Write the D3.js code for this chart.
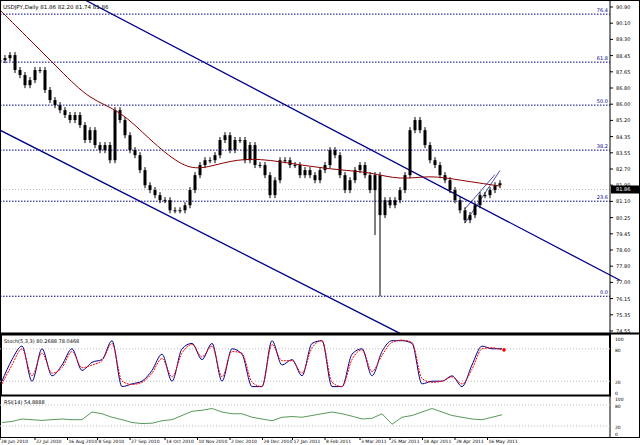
<!DOCTYPE html>
<html><head><meta charset="utf-8">
<script src="https://cdn.jsdelivr.net/npm/d3@7"></script>
<style>body{margin:0;background:#fff}text{font-family:"DejaVu Sans",sans-serif}</style>
</head><body><svg id="c" width="640" height="445"></svg>
<script>
const closes = [88.27,88.37,88.52,87.78,87.53,87.03,87.28,87.78,87.78,86.79,86.29,86.04,85.79,85.55,85.30,85.55,85.05,84.31,84.80,84.06,83.81,84.06,83.31,85.79,85.30,84.55,83.81,83.56,82.82,82.07,81.83,81.58,81.33,81.33,80.83,80.83,80.83,81.08,81.83,82.57,83.07,83.31,83.31,83.56,84.31,84.55,83.81,84.31,84.31,83.31,84.06,83.07,83.07,82.57,81.58,82.32,83.31,83.31,83.07,83.07,82.57,82.82,82.57,82.32,82.82,83.07,83.81,83.56,82.57,81.83,82.32,82.82,83.07,82.57,81.83,82.57,80.59,81.33,81.08,81.33,81.83,82.57,84.80,85.30,84.80,84.06,83.31,83.07,82.57,82.32,81.83,81.33,80.83,80.34,80.59,81.08,81.58,81.58,81.83,82.07,82.17];
const spikeLows = {76: 76.57, 75: 79.6};
const maIdx = [0,6,12,18,24,30,36,40,46,52,60,68,74,80,86,92,100];
const maVals = [90.75,89.27,87.78,86.29,85.80,84.31,83.07,82.82,83.31,83.41,83.07,82.82,82.72,82.32,82.57,82.32,82.03];
const fibLevels = [76.4,61.8,50.0,38.2,23.6,0.0];
const fibPrices = [90.55,88.17,86.04,83.81,81.28,76.57];
const priceTicks = ["90.90","90.10","89.30","88.45","87.65","86.80","86.00","85.20","84.35","83.55","82.70","81.90","81.10","80.25","79.45","78.60","77.80","77.00","76.15","75.35","74.55"];
const lastPrice = "81.86";
const stochK = [20,60,85,20,80,30,50,80,40,55,60,95,10,15,20,40,70,20,80,90,60,90,20,80,70,10,10,95,50,60,30,90,95,10,10,70,80,30,75,95,95,90,15,20,20,30,10,50,85,80,80];
const stochD = [15,50,80,30,72,35,45,75,45,50,58,90,20,14,18,35,62,28,72,88,65,85,28,75,72,18,10,88,58,58,35,82,95,18,10,60,78,38,68,92,96,92,25,18,20,28,15,42,80,82,78];
const rsiVals = [30,33,40,38,36,38,40,38,38,60,55,45,38,30,27,28,35,38,50,62,65,70,60,55,55,45,40,35,45,47,45,50,55,60,55,48,40,42,55,25,45,50,60,70,60,50,45,40,38,45,52];
const dateLabels = ["28 Jun 2010","22 Jul 2010","16 Aug 2010","8 Sep 2010","27 Sep 2010","14 Oct 2010","10 Nov 2010","2 Dec 2010","24 Dec 2010","17 Jan 2011","8 Feb 2011","3 Mar 2011","25 Mar 2011","18 Apr 2011","28 Apr 2011","16 May 2011"];
const dateIdx = [0,7,13.5,19.5,26,33,39.5,46,52.5,58.5,65,72,78,84.5,91,97.5];

const svg = d3.select('#c');
const W = 610;
const x = d3.scaleLinear().domain([0,122]).range([0,W]);
const y = d3.scaleLinear().domain([74.55,91.25]).range([337,0]);
const yS = d3.scaleLinear().domain([0,100]).range([392,338]);
const yR = d3.scaleLinear().domain([0,100]).range([433,398]);

const main = svg.append('g');
fibPrices.forEach((p,i) => {
  main.append('line').attr('x1',0).attr('x2',W).attr('y1',y(p)).attr('y2',y(p))
    .attr('stroke','#00008b').attr('stroke-dasharray','1.5,1.5');
  main.append('text').attr('x',W-2).attr('y',y(p)-2).attr('text-anchor','end')
    .attr('font-size',5).attr('fill','#00008b').text(fibLevels[i].toFixed(1));
});
main.append('line').attr('x1',0).attr('x2',W).attr('y1',y(81.86)).attr('y2',y(81.86))
  .attr('stroke','#bbb').attr('stroke-dasharray','1,2');
const chan = [[[17,91.25],[124,77.36],1.3],[[0,84.8],[80,74.73],1.3],[[93,80.2],[100,82.8],0.7],[[93,80.9],[99,82.6],0.7]];
chan.forEach(c => main.append('line').attr('x1',x(c[0][0])).attr('y1',y(c[0][1]))
  .attr('x2',x(c[1][0])).attr('y2',y(c[1][1])).attr('stroke','#00008b').attr('stroke-width',c[2]));
closes.forEach((c,i) => {
  const o = i ? closes[i-1] : c;
  const hi = Math.max(o,c)+0.15, lo = spikeLows[i] || Math.min(o,c)-0.15;
  main.append('line').attr('x1',x(i)).attr('x2',x(i)).attr('y1',y(hi)).attr('y2',y(lo))
    .attr('stroke','#000').attr('stroke-width',1);
  main.append('rect').attr('x',x(i)-1.5).attr('width',3).attr('y',y(Math.max(o,c)))
    .attr('height',Math.max(1,Math.abs(y(o)-y(c)))).attr('fill','#000');
});
main.append('path').datum(maIdx.map((d,i)=>[d,maVals[i]]))
  .attr('d',d3.line().x(d=>x(d[0])).y(d=>y(d[1])).curve(d3.curveBasis))
  .attr('fill','none').attr('stroke','#8b0000').attr('stroke-width',1);

svg.append('line').attr('x1',W).attr('x2',W).attr('y1',0).attr('y2',437).attr('stroke','#000');
priceTicks.forEach((t,i) => {
  const yy = i*16.2+7;
  svg.append('line').attr('x1',W).attr('x2',W+3).attr('y1',yy).attr('y2',yy).attr('stroke','#000');
  svg.append('text').attr('x',W+6).attr('y',yy+2).attr('font-size',5).text(t);
});
svg.append('rect').attr('x',W+1).attr('y',y(81.86)-4).attr('width',29).attr('height',8).attr('fill','#000');
svg.append('text').attr('x',W+6).attr('y',y(81.86)+2).attr('font-size',5).attr('fill','#fff').text(lastPrice);
svg.append('text').attr('x',3).attr('y',9).attr('font-size',5.5).text('USDJPY,Daily  81.86 82.20 81.74 81.86');

svg.append('line').attr('x1',0).attr('x2',640).attr('y1',333.5).attr('y2',333.5).attr('stroke','#000').attr('stroke-width',2);
svg.append('rect').attr('x',1).attr('y',334.5).attr('width',W-1).attr('height',61).attr('fill','none').attr('stroke','#000').attr('stroke-width',2);
svg.append('rect').attr('x',0.5).attr('y',0.5).attr('width',639).attr('height',437).attr('fill','none').attr('stroke','#000');

[80,20].forEach(v => svg.append('line').attr('x1',0).attr('x2',W).attr('y1',yS(v)).attr('y2',yS(v)).attr('stroke','#bbb').attr('stroke-dasharray','1,2'));
const xs = (d,i) => x(i*2)+2;
svg.append('path').attr('d',d3.line().x(xs).y(d=>yS(d)).curve(d3.curveMonotoneX)(stochK))
  .attr('fill','none').attr('stroke','#00008b').attr('stroke-width',1);
svg.append('path').attr('d',d3.line().x(xs).y(d=>yS(d)).curve(d3.curveMonotoneX)(stochD))
  .attr('fill','none').attr('stroke','#f00').attr('stroke-width',1).attr('stroke-dasharray','2,1');
svg.append('circle').attr('cx',xs(0,stochD.length-1)+2).attr('cy',yS(78)).attr('r',1.8).attr('fill','#f00');
svg.append('text').attr('x',4).attr('y',343).attr('font-size',5).text('Stoch(5,3,3) 80.2688 78.0468');
[[100,'100'],[80,'80'],[20,'20'],[0,'0']].forEach(d => svg.append('text').attr('x',W+5).attr('y',yS(d[0])+3).attr('font-size',4.5).text(d[1]));

[80,20].forEach(v => svg.append('line').attr('x1',0).attr('x2',W).attr('y1',yR(v)).attr('y2',yR(v)).attr('stroke','#bbb').attr('stroke-dasharray','1,2'));
svg.append('path').attr('d',d3.line().x(xs).y(d=>yR(d))(rsiVals))
  .attr('fill','none').attr('stroke','#2e7d32').attr('stroke-width',0.8);
svg.append('text').attr('x',4).attr('y',404).attr('font-size',5).text('RSI(14) 54.8888');
[[100,'100'],[80,'80'],[20,'20'],[0,'0']].forEach(d => svg.append('text').attr('x',W+5).attr('y',yR(d[0])+3).attr('font-size',4.5).text(d[1]));

dateLabels.forEach((t,i) => {
  const xx = x(dateIdx[i]);
  svg.append('line').attr('x1',xx).attr('x2',xx).attr('y1',437).attr('y2',440).attr('stroke','#000');
  svg.append('text').attr('x',xx+1).attr('y',443).attr('font-size',4.5).text(t);
});
</script></body></html>
